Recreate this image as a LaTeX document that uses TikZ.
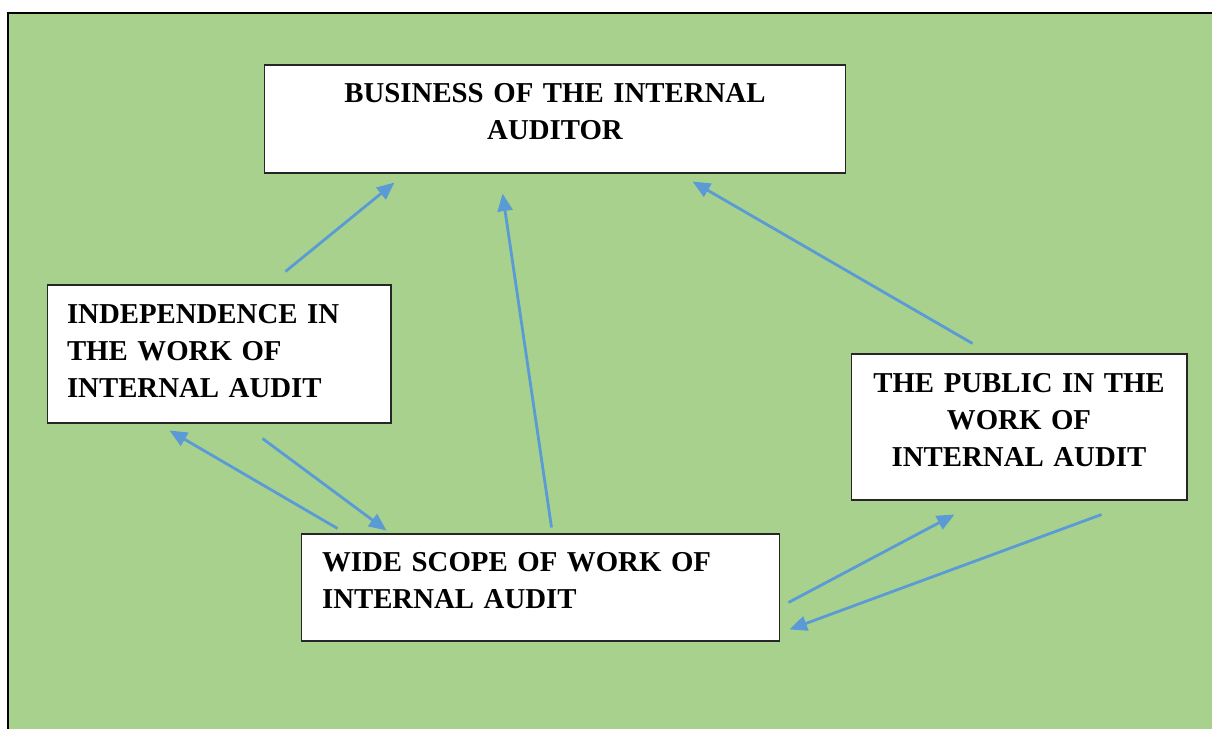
\documentclass[tikz,border=0pt]{standalone}
\usepackage{fontspec}
\setmainfont{Liberation Serif}
\usetikzlibrary{arrows.meta,calc}
\definecolor{leafgreen}{RGB}{169,209,142}
\definecolor{arrowblue}{RGB}{91,155,213}

\begin{document}
\begin{tikzpicture}[
x=0.02cm,y=-0.02cm,
box/.style={draw=black!85,line width=0.6pt,fill=white,inner sep=0pt,font=\bfseries\fontsize{16.4pt}{21.05pt}\selectfont},
arr/.style={-{Triangle[length=10pt,width=8.5pt]},line width=1.6pt,arrowblue}
]
\useasboundingbox (0,0) rectangle (1212,729);
\fill[white] (0,0) rectangle (1212,729);
\draw[line width=1.2pt,fill=leafgreen] (8,13) rectangle (1240,760);
\node[box,minimum width=11.64cm,minimum height=2.16cm,text width=10.84cm,align=center,text depth=1.04cm] (top) at (555,119) {BUSINESS OF THE INTERNAL\\AUDITOR};
\node[box,minimum width=6.88cm,minimum height=2.76cm,text width=6.08cm,align=left,text depth=1.62cm] (left) at (219,354) {INDEPENDENCE IN\\THE WORK OF\\INTERNAL AUDIT};
\node[box,minimum width=6.72cm,minimum height=2.92cm,text width=6.4cm,align=center,text depth=1.78cm] (right) at (1019,427) {THE PUBLIC IN THE\\WORK OF\\INTERNAL AUDIT};
\node[box,minimum width=9.58cm,minimum height=2.14cm,text width=8.74cm,align=left,text depth=1.02cm] (bottom) at (540.5,587.5) {WIDE SCOPE OF WORK OF\\INTERNAL AUDIT};
\draw[arr] ($(left.north west)+(239,-13)$) -- ($(top.south west)+(131,9)$);
\draw[arr] ($(bottom.north west)+(251,-6)$) -- ($(top.south west)+(239,20)$);
\draw[arr] ($(right.north west)+(122,-10)$) -- ($(top.south west)+(429,8)$);
\draw[arr] ($(bottom.north west)+(37,-5)$) -- ($(left.south west)+(123,7)$);
\draw[arr] ($(left.south west)+(216,15)$) -- ($(bottom.north west)+(86,-3)$);
\draw[arr] ($(bottom.north east)+(8,69)$) -- ($(right.south west)+(104,14)$);
\draw[arr] ($(right.south west)+(251,14)$) -- ($(bottom.north east)+(9,96)$);
\end{tikzpicture}
\end{document}
